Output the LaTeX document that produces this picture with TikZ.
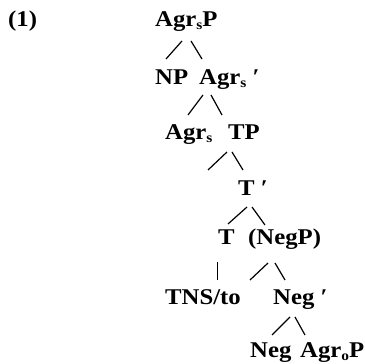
\documentclass[tikz,border=0pt]{standalone}
\usepackage{fontspec}
\setmainfont[FakeStretch=1.1]{Liberation Serif}
\newcommand\lo[1]{\raisebox{-2.5pt}{\fontsize{14}{14}\selectfont #1}}
\begin{document}
\begin{tikzpicture}[x=1pt,y=1pt,
  lbl/.style={anchor=base west,inner sep=0pt,font=\fontsize{22.5}{22.5}\selectfont\bfseries},
  br/.style={line width=1.2pt}]
\useasboundingbox (0,0) rectangle (365,364);
% labels
\node[lbl] (ex)    at (8,337)   {(1)};
\node[lbl] (AgrsP) at (155,337) {Agr\lo{s}P};
\node[lbl] (NP)    at (155,279) {NP};
\node[lbl] (Agrsb) at (199,279) {Agr\lo{s} ′};
\node[lbl] (Agrs)  at (165,224) {Agr\lo{s}};
\node[lbl] (TP)    at (228,224) {TP};
\node[lbl] (Tbar)  at (238,168) {T ′};
\node[lbl] (T)     at (218,119) {T};
\node[lbl] (NegP)  at (248,119) {(NegP)};
\node[lbl] (TNS)   at (165,59)  {TNS/to};
\node[lbl] (Negb)  at (273,59)  {Neg ′};
\node[lbl] (Neg)   at (250,6)   {Neg};
\node[lbl] (AgroP) at (300,6)   {Agr\lo{o}P};
% branch ends
\coordinate (a1) at (182,323); \coordinate (a2) at (166,305);
\coordinate (a3) at (191,323); \coordinate (a4) at (202,305);
\coordinate (b1) at (203,269); \coordinate (b2) at (188,249);
\coordinate (b3) at (211,269); \coordinate (b4) at (222,249);
\coordinate (c1) at (227,212); \coordinate (c2) at (208,194);
\coordinate (c3) at (232,212); \coordinate (c4) at (243,194);
\coordinate (d1) at (247,157); \coordinate (d2) at (228,140);
\coordinate (d3) at (252,157); \coordinate (d4) at (265,139);
\coordinate (e1) at (217,102); \coordinate (e2) at (217,84);
\coordinate (f1) at (268,101); \coordinate (f2) at (250,84);
\coordinate (f3) at (275,101); \coordinate (f4) at (285,84);
\coordinate (g1) at (290,47);  \coordinate (g2) at (272,29);
\coordinate (g3) at (295,47);  \coordinate (g4) at (305,29);
% branches
\draw[br] (a1) -- (a2); \draw[br] (a3) -- (a4);
\draw[br] (b1) -- (b2); \draw[br] (b3) -- (b4);
\draw[br] (c1) -- (c2); \draw[br] (c3) -- (c4);
\draw[br] (d1) -- (d2); \draw[br] (d3) -- (d4);
\draw[line width=0.8pt] (e1) -- (e2);
\draw[br] (f1) -- (f2); \draw[br] (f3) -- (f4);
\draw[br] (g1) -- (g2); \draw[br] (g3) -- (g4);
\end{tikzpicture}
\end{document}
